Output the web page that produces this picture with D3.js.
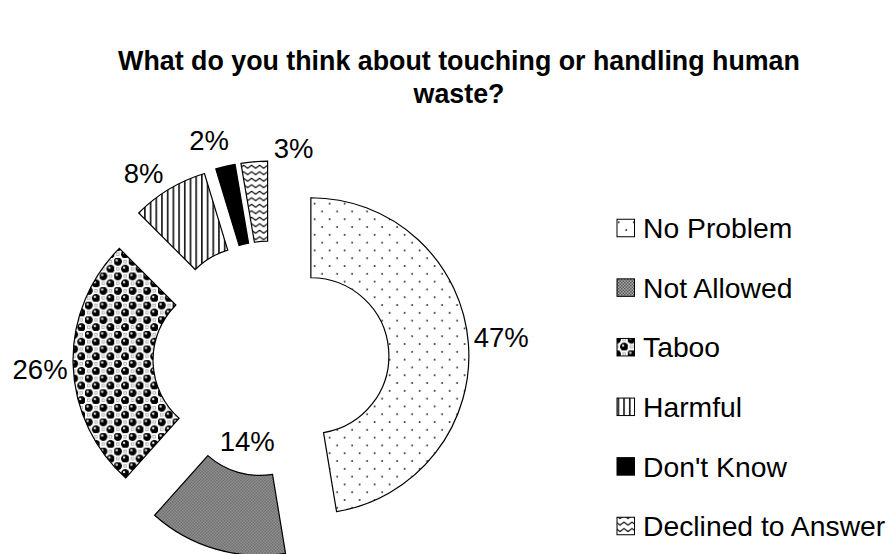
<!DOCTYPE html>
<html>
<head>
<meta charset="utf-8">
<script src="https://cdn.jsdelivr.net/npm/d3@7"></script>
<style>
  html, body { margin: 0; padding: 0; background: #fff; }
  svg { display: block; font-family: "Liberation Sans", Arial, sans-serif; }
</style>
</head>
<body>
<svg id="chart" width="891" height="554"></svg>
<script>
// ---- data ----
const categories = ["No Problem", "Not Allowed", "Taboo", "Harmful", "Don't Know", "Declined to Answer"];
const values = [47.4, 14.2, 25.9, 7.8, 2.0, 2.7];
const titleLines = ["What do you think about touching or handling human", "waste?"];

// ---- layout / style (not data) ----
const W = 891, H = 554;
const cx = 271, cy = 359;
const outerR = 158, innerR = 78, explode = 40;
const patternIds = ["pDots", "pGray", "pSphere", "pVert", "pSolid", "pZig"];
const labelRadius = [190, 45, 190, 190, 190, 190];
const labelNudge = [[1, -3], [0, 0], [-1, 4], [-9, 11], [-9, 5], [42, 18]];

const svg = d3.select("#chart");
const defs = svg.append("defs");

// dotted pattern
const p1 = defs.append("pattern").attr("id", "pDots").attr("patternUnits", "userSpaceOnUse")
  .attr("width", 15).attr("height", 15.6);
p1.append("rect").attr("width", 15).attr("height", 15.6).attr("fill", "#fff");
p1.append("circle").attr("cx", 3.75).attr("cy", 3.9).attr("r", 1).attr("fill", "#333");
p1.append("circle").attr("cx", 11.25).attr("cy", 11.7).attr("r", 1).attr("fill", "#333");

// fine gray checker
const p2 = defs.append("pattern").attr("id", "pGray").attr("patternUnits", "userSpaceOnUse")
  .attr("width", 3).attr("height", 3);
p2.append("rect").attr("width", 3).attr("height", 3).attr("fill", "#a4a4a4");
p2.append("rect").attr("width", 1.5).attr("height", 1.5).attr("fill", "#5c5c5c");
p2.append("rect").attr("x", 1.5).attr("y", 1.5).attr("width", 1.5).attr("height", 1.5).attr("fill", "#5c5c5c");

// sphere pattern
const sp = 14.6;
const p3 = defs.append("pattern").attr("id", "pSphere").attr("patternUnits", "userSpaceOnUse")
  .attr("width", sp).attr("height", sp);
p3.append("rect").attr("width", sp).attr("height", sp).attr("fill", "#fff");
[[sp / 4, sp / 4], [3 * sp / 4, 3 * sp / 4]].forEach(([x, y]) => {
  p3.append("circle").attr("cx", x).attr("cy", y).attr("r", 4.1).attr("fill", "#000");
  p3.append("circle").attr("cx", x - 1.1).attr("cy", y - 1.2).attr("r", 1.2).attr("fill", "#e0e0e0");
});
[[3 * sp / 4, sp / 4], [sp / 4, 3 * sp / 4]].forEach(([x, y]) => {
  p3.append("rect").attr("x", x - 1.3).attr("y", y - 1.3).attr("width", 2.6).attr("height", 2.6)
    .attr("fill", "#fff").attr("stroke", "#888").attr("stroke-width", 0.6);
});

// vertical stripes
const p4 = defs.append("pattern").attr("id", "pVert").attr("patternUnits", "userSpaceOnUse")
  .attr("width", 5.7).attr("height", 10);
p4.append("rect").attr("width", 5.7).attr("height", 10).attr("fill", "#fff");
p4.append("rect").attr("x", 2).attr("width", 1.5).attr("height", 10).attr("fill", "#000");

// solid
const p5 = defs.append("pattern").attr("id", "pSolid").attr("patternUnits", "userSpaceOnUse")
  .attr("width", 4).attr("height", 4);
p5.append("rect").attr("width", 4).attr("height", 4).attr("fill", "#000");

// zigzag
const p6 = defs.append("pattern").attr("id", "pZig").attr("patternUnits", "userSpaceOnUse")
  .attr("width", 8).attr("height", 6.5);
p6.append("rect").attr("width", 8).attr("height", 6.5).attr("fill", "#fff");
p6.append("path").attr("d", "M-2,4.5 L0,2 L4,5 L8,2 L10,4.5").attr("fill", "none")
  .attr("stroke", "#000").attr("stroke-width", 1.1);

// ---- title ----
const title = svg.append("text").attr("x", 459).attr("y", 70)
  .attr("text-anchor", "middle").attr("font-size", 26.8).attr("font-weight", "bold").attr("fill", "#000");
titleLines.forEach((t, i) => title.append("tspan").attr("x", 459).attr("dy", i === 0 ? 0 : 33).text(t));

// ---- donut ----
const data = categories.map((c, i) => ({ name: c, value: values[i], idx: i }));
const pie = d3.pie().value(d => d.value).sort(null).startAngle(0).endAngle(2 * Math.PI);
const arcs = pie(data);
const arc = d3.arc().innerRadius(innerR).outerRadius(outerR);

const g = svg.append("g").attr("transform", `translate(${cx},${cy})`);
arcs.forEach(a => {
  const mid = (a.startAngle + a.endAngle) / 2;
  const ux = Math.sin(mid), uy = -Math.cos(mid);
  const sx = ux * explode, sy = uy * explode;
  g.append("path")
    .attr("transform", `translate(${sx},${sy})`)
    .attr("d", arc(a))
    .attr("fill", `url(#${patternIds[a.data.idx]})`)
    .attr("stroke", "#000").attr("stroke-width", 1.2).attr("stroke-linejoin", "miter");
  const lr = labelRadius[a.data.idx];
  const nd = labelNudge[a.data.idx];
  g.append("text")
    .attr("x", sx + ux * lr + nd[0])
    .attr("y", sy + uy * lr + nd[1])
    .attr("dy", "0.36em")
    .attr("text-anchor", "middle")
    .attr("font-size", 27.5).attr("fill", "#000")
    .text(Math.round(a.data.value) + "%");
});

// ---- legend ----
const legX = 617, legY0 = 228, legStep = 59.6, box = 17.5;
const leg = svg.append("g");
categories.forEach((c, i) => {
  const y = legY0 + i * legStep;
  leg.append("rect").attr("x", legX).attr("y", y - box / 2).attr("width", box).attr("height", box)
    .attr("fill", `url(#${patternIds[i]})`).attr("stroke", "#000").attr("stroke-width", 1);
  leg.append("text").attr("x", legX + 26).attr("y", y).attr("dy", "0.36em")
    .attr("font-size", 28.3).attr("fill", "#000").text(c);
});
</script>
</body>
</html>
